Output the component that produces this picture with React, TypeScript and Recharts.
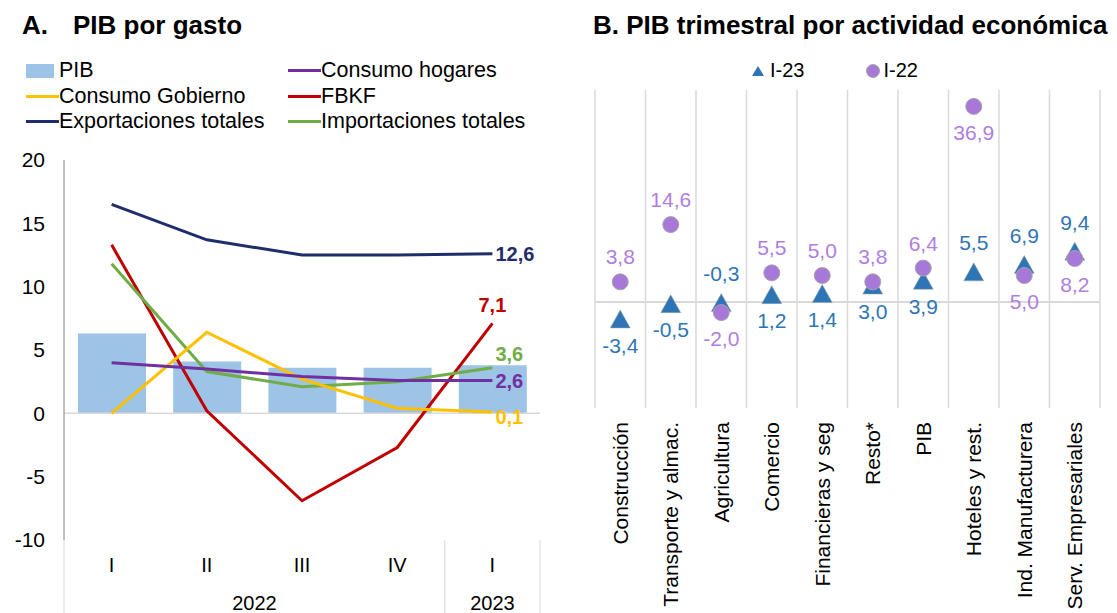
import React from "react";
import {
  Bar,
  CartesianGrid,
  ComposedChart,
  LabelList,
  Line,
  ReferenceLine,
  XAxis,
  YAxis,
} from "recharts";

const FONT = '"Liberation Sans", Arial, sans-serif';

// Panel A: PIB por gasto
const quarters = ["I", "II", "III", "IV", "I"];
const years = ["2022", "2022", "2022", "2022", "2023"];
const pib = [6.3, 4.1, 3.6, 3.6, 3.8];
const consumoHogares = [4.0, 3.5, 2.9, 2.6, 2.6];
const consumoGobierno = [0.0, 6.4, 2.7, 0.4, 0.1];
const fbkf = [13.3, 0.2, -6.9, -2.7, 7.1];
const exportaciones = [16.5, 13.7, 12.5, 12.5, 12.6];
const importaciones = [11.8, 3.3, 2.1, 2.5, 3.6];
const gastoTicks = [-10, -5, 0, 5, 10, 15, 20];

// Panel B: PIB trimestral por actividad económica
const sectors = [
  "Construcción",
  "Transporte y almac.",
  "Agricultura",
  "Comercio",
  "Financieras y seg",
  "Resto*",
  "PIB",
  "Hoteles y rest.",
  "Ind. Manufacturera",
  "Serv. Empresariales",
];
const i23 = [-3.4, -0.5, -0.3, 1.2, 1.4, 3.0, 3.9, 5.5, 6.9, 9.4];
const i22 = [3.8, 14.6, -2.0, 5.5, 5.0, 3.8, 6.4, 36.9, 5.0, 8.2];
const i23LabelBelow = [true, true, false, true, true, true, true, false, false, false];
const i22LabelBelow = [false, false, true, false, false, false, false, true, true, true];

const gastoRows = quarters.map((q, i) => ({
  id: `${q}-${years[i]}`,
  pib: pib[i],
  hogares: consumoHogares[i],
  gobierno: consumoGobierno[i],
  fbkf: fbkf[i],
  exp: exportaciones[i],
  imp: importaciones[i],
}));

const sectorRows = sectors.map((s, i) => ({ sector: s, i23: i23[i], i22: i22[i] }));

const gastoLines = [
  { key: "exp", color: "#1f2d6b", dx: 3, dy: 0, anchor: "start" },
  { key: "fbkf", color: "#c00000", dx: 0, dy: -18, anchor: "middle" },
  { key: "imp", color: "#70ad47", dx: 3, dy: -14, anchor: "start" },
  { key: "gobierno", color: "#ffc000", dx: 3, dy: 5, anchor: "start" },
  { key: "hogares", color: "#7030a0", dx: 3, dy: 1, anchor: "start" },
];

const legendA = [
  { name: "PIB", color: "#9dc3e6", bar: true },
  { name: "Consumo hogares", color: "#7030a0" },
  { name: "Consumo Gobierno", color: "#ffc000" },
  { name: "FBKF", color: "#c00000" },
  { name: "Exportaciones totales", color: "#1f2d6b" },
  { name: "Importaciones totales", color: "#70ad47" },
];

const fmt = (v: number) => v.toFixed(1).replace(".", ",");

function QuarterTick(props: any) {
  const { x, y, payload } = props;
  const i = payload.index;
  const band = payload.offset ? payload.offset * 2 : 95;
  const n = quarters.length;
  const groupStart = i === 0 || years[i] !== years[i - 1];
  let end = i;
  while (end + 1 < n && years[end + 1] === years[i]) end++;
  return (
    <g fontFamily={FONT} fontSize={20}>
      <text x={x} y={y + 32} textAnchor="middle" fill="#000">
        {quarters[i]}
      </text>
      {groupStart && (
        <>
          <text x={x + ((end - i) * band) / 2} y={y + 70} textAnchor="middle" fill="#000">
            {years[i]}
          </text>
          <line x1={x - band / 2} x2={x - band / 2} y1={y} y2={y + 80} stroke="#d9d9d9" />
        </>
      )}
      {i === n - 1 && (
        <line x1={x + band / 2} x2={x + band / 2} y1={y} y2={y + 80} stroke="#d9d9d9" />
      )}
    </g>
  );
}

function SectorTick(props: any) {
  const { x, y, payload } = props;
  return (
    <g transform={`translate(${x},${y + 14})`}>
      <text
        transform="rotate(-90)"
        textAnchor="end"
        dy="0.35em"
        fontFamily={FONT}
        fontSize={21}
        fill="#000"
      >
        {payload.value}
      </text>
    </g>
  );
}

function Triangle(props: any) {
  const { cx, cy } = props;
  if (cx == null || cy == null) return null;
  return (
    <path
      d={`M${cx},${cy - 10} L${cx + 10},${cy + 8} L${cx - 10},${cy + 8} Z`}
      fill="#2e75b6"
      stroke="#a6a6a6"
      strokeWidth={0.5}
    />
  );
}

function Circle(props: any) {
  const { cx, cy } = props;
  if (cx == null || cy == null) return null;
  return <circle cx={cx} cy={cy} r={8} fill="#a878d8" stroke="#a6a6a6" strokeWidth={1} />;
}

const pointLabel = (below: boolean[], color: string, upOff: number, downOff: number) =>
  (props: any) => {
    const { x, y, value, index } = props;
    const dy = below[index] ? downOff : upOff;
    return (
      <text
        x={x}
        y={y + dy}
        textAnchor="middle"
        dominantBaseline="central"
        fontFamily={FONT}
        fontSize={21}
        fill={color}
      >
        {fmt(value)}
      </text>
    );
  };

const endLabel = (color: string, dx: number, dy: number, anchor: string) => (props: any) => {
  const { x, y, value, index } = props;
  if (index !== quarters.length - 1) return null;
  return (
    <text
      x={x + dx}
      y={y + dy}
      textAnchor={anchor}
      dominantBaseline="central"
      fontFamily={FONT}
      fontSize={20}
      fontWeight="bold"
      fill={color}
    >
      {fmt(value)}
    </text>
  );
};

export default function App() {
  return (
    <div
      style={{
        position: "absolute",
        left: 0,
        top: 0,
        width: 1117,
        height: 613,
        background: "#fff",
        fontFamily: FONT,
        overflow: "hidden",
      }}
    >
      <div
        style={{
          position: "absolute",
          left: 22,
          top: 10,
          fontSize: 26,
          fontWeight: "bold",
          whiteSpace: "nowrap",
        }}
      >
        A.<span style={{ marginLeft: 25 }}>PIB por gasto</span>
      </div>
      <div
        style={{
          position: "absolute",
          left: 593,
          top: 10,
          fontSize: 26,
          fontWeight: "bold",
          whiteSpace: "nowrap",
        }}
      >
        B. PIB trimestral por actividad económica
      </div>

      {legendA.map((item, i) => {
        const col = i % 2;
        const row = Math.floor(i / 2);
        return (
          <div
            key={item.name}
            style={{
              position: "absolute",
              left: col === 0 ? 26 : 288,
              top: 58 + row * 25.5,
              height: 25,
              display: "flex",
              alignItems: "center",
              fontSize: 21.5,
              whiteSpace: "nowrap",
            }}
          >
            <span
              style={{
                display: "inline-block",
                width: item.bar ? 28 : 33,
                height: item.bar ? 14 : 3,
                marginRight: item.bar ? 5 : 0,
                background: item.color,
              }}
            />
            {item.name}
          </div>
        );
      })}

      <div style={{ position: "absolute", left: 0, top: 0 }}>
        <ComposedChart
          width={560}
          height={613}
          data={gastoRows}
          margin={{ top: 160, right: 20, bottom: 0, left: 0 }}
        >
          <YAxis
            domain={[-10, 20]}
            ticks={gastoTicks}
            interval={0}
            width={64}
            tickLine={false}
            tickSize={0}
            tickMargin={19}
            axisLine={{ stroke: "#7f7f7f" }}
            tick={{ fill: "#000", fontSize: 21, fontFamily: FONT }}
          />
          <XAxis
            dataKey="id"
            interval={0}
            height={73}
            axisLine={false}
            tickLine={false}
            tickSize={0}
            tickMargin={0}
            tick={<QuarterTick />}
          />
          <ReferenceLine y={0} stroke="#d9d9d9" strokeWidth={1.5} />
          <Bar dataKey="pib" fill="#9dc3e6" barSize={68} isAnimationActive={false} />
          {gastoLines.map((s) => (
            <Line
              key={s.key}
              dataKey={s.key}
              type="linear"
              stroke={s.color}
              strokeWidth={3}
              dot={false}
              activeDot={false}
              isAnimationActive={false}
            >
              <LabelList dataKey={s.key} content={endLabel(s.color, s.dx, s.dy, s.anchor)} />
            </Line>
          ))}
        </ComposedChart>
      </div>

      <div
        style={{
          position: "absolute",
          left: 751,
          top: 58,
          height: 25,
          display: "flex",
          alignItems: "center",
          fontSize: 20,
        }}
      >
        <svg width={14} height={14} style={{ marginRight: 5 }}>
          <path d="M7,2 L13,12 L1,12 Z" fill="#2e75b6" />
        </svg>
        I-23
        <svg width={16} height={16} style={{ marginLeft: 61, marginRight: 2 }}>
          <circle cx={8} cy={8} r={6.5} fill="#a878d8" stroke="#a6a6a6" strokeWidth={1} />
        </svg>
        I-22
      </div>

      <div style={{ position: "absolute", left: 560, top: 0 }}>
        <ComposedChart
          width={557}
          height={613}
          data={sectorRows}
          margin={{ top: 90, right: 17, bottom: 0, left: 35 }}
        >
          <CartesianGrid
            horizontal={false}
            stroke="#d9d9d9"
            strokeWidth={1.5}
            verticalCoordinatesGenerator={({ offset }: any) =>
              Array.from(
                { length: sectors.length + 1 },
                (_, i) => offset.left + (i * offset.width) / sectors.length
              )
            }
          />
          <XAxis
            dataKey="sector"
            scale="band"
            interval={0}
            height={205}
            axisLine={false}
            tickLine={false}
            tickSize={0}
            tickMargin={0}
            tick={<SectorTick />}
          />
          <YAxis hide domain={[-20, 40]} />
          <ReferenceLine y={0} stroke="#d9d9d9" strokeWidth={2} />
          <Line
            dataKey="i23"
            stroke="none"
            dot={<Triangle />}
            activeDot={false}
            isAnimationActive={false}
          >
            <LabelList dataKey="i23" content={pointLabel(i23LabelBelow, "#2e75b6", -30, 25)} />
          </Line>
          <Line
            dataKey="i22"
            stroke="none"
            dot={<Circle />}
            activeDot={false}
            isAnimationActive={false}
          >
            <LabelList dataKey="i22" content={pointLabel(i22LabelBelow, "#b07ee0", -25, 26)} />
          </Line>
        </ComposedChart>
      </div>
    </div>
  );
}
